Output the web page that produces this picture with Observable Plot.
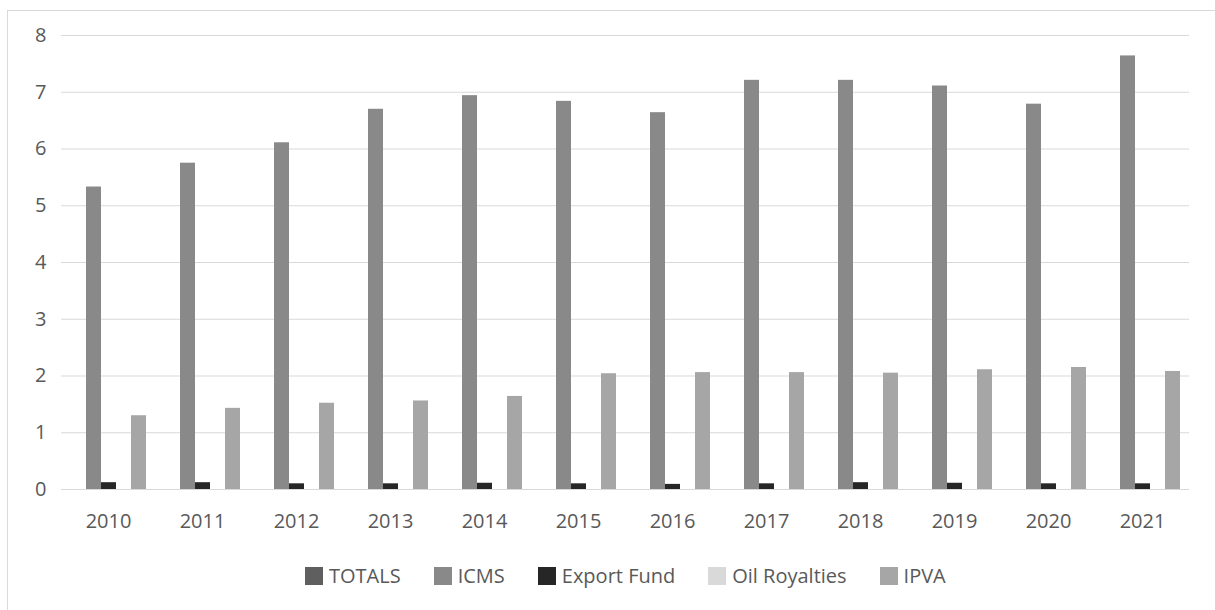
<!DOCTYPE html>
<html>
<head>
<meta charset="utf-8">
<script src="https://cdn.jsdelivr.net/npm/d3@7"></script>
<script src="https://cdn.jsdelivr.net/npm/@observablehq/plot@0.6"></script>
<style>
  html, body { margin: 0; padding: 0; background: #fff; }
  body { width: 1215px; height: 610px; position: relative; overflow: hidden; font-family: "Open Sans", sans-serif; }
  #frame { position: absolute; left: 7px; top: 10px; width: 1215px; height: 610px; border: 1px solid #d9d9d9; box-sizing: border-box; }
  #chart { position: absolute; left: 0; top: 0; }
  #legend { position: absolute; left: 305px; top: 565px; display: flex; align-items: center; font-size: 20px; line-height: 22px; color: #595959; white-space: nowrap; }
  .item { display: flex; align-items: center; margin-right: 33px; }
  .sw { width: 18px; height: 18px; margin-right: 6px; }
</style>
</head>
<body>
<div id="frame"></div>
<div id="chart"></div>
<div id="legend"></div>
<script>
const years = ["2010","2011","2012","2013","2014","2015","2016","2017","2018","2019","2020","2021"];
const seriesNames = ["TOTALS","ICMS","Export Fund","Oil Royalties","IPVA"];
const seriesColors = ["#5f5f5f","#898989","#262626","#d9d9d9","#a6a6a6"];
const totals       = [0,0,0,0,0,0,0,0,0,0,0,0];
const icms         = [5.33,5.75,6.11,6.70,6.94,6.84,6.64,7.21,7.21,7.11,6.79,7.64];
const exportFund   = [0.12,0.12,0.10,0.10,0.11,0.10,0.09,0.10,0.12,0.11,0.10,0.10];
const oilRoyalties = [0,0,0,0,0,0,0,0,0,0,0,0];
const ipva         = [1.30,1.43,1.52,1.56,1.64,2.04,2.06,2.06,2.05,2.11,2.15,2.08];
const yTicks = [0,1,2,3,4,5,6,7,8];

const seriesValues = [totals, icms, exportFund, oilRoyalties, ipva];
const data = [];
years.forEach((yr, i) => {
  seriesNames.forEach((s, j) => data.push({year: yr, series: s, value: seriesValues[j][i]}));
});

const chart = Plot.plot({
  width: 1215,
  height: 545,
  marginLeft: 60,
  marginRight: 25,
  marginTop: 35,
  marginBottom: 56,
  style: {fontFamily: "'Open Sans', sans-serif", fontSize: "20px", color: "#595959", background: "transparent"},
  fx: {domain: years, paddingInner: 0, paddingOuter: 0, label: null, tickSize: 0, tickPadding: 24},
  x: {domain: seriesNames, paddingInner: 0, paddingOuter: 0.52, axis: null},
  y: {domain: [0, 8], ticks: yTicks, tickSize: 0, tickPadding: 15, label: null},
  color: {domain: seriesNames, range: seriesColors},
  marks: [
    Plot.ruleY(yTicks, {stroke: "#d9d9d9", strokeWidth: 1}),
    Plot.barY(data, {fx: "year", x: "series", y: "value", fill: "series"})
  ]
});
document.getElementById("chart").appendChild(chart);

const legend = document.getElementById("legend");
seriesNames.forEach((s, j) => {
  const it = document.createElement("div");
  it.className = "item";
  const sw = document.createElement("div");
  sw.className = "sw";
  sw.style.background = seriesColors[j];
  const t = document.createElement("span");
  t.textContent = s;
  it.appendChild(sw); it.appendChild(t);
  legend.appendChild(it);
});
</script>
</body>
</html>
